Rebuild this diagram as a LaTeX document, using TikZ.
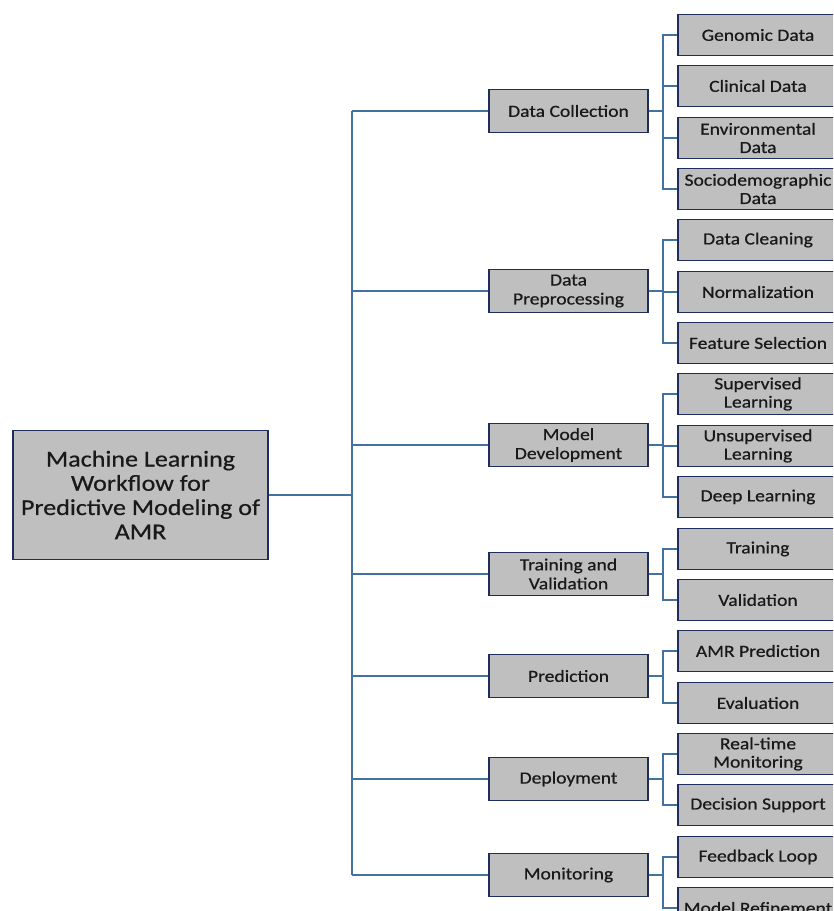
\documentclass[tikz,border=0pt]{standalone}
\usepackage{fontspec}
\setmainfont{Carlito}[FakeStretch=1.15, FakeBold=0.6]
\definecolor{boxline}{RGB}{31,45,92}
\definecolor{boxfill}{RGB}{191,191,191}
\definecolor{linkblue}{RGB}{68,114,160}

\begin{document}
\begin{tikzpicture}[x=0.02cm, y=-0.02cm]
    % Box and connector styles
    \tikzset{
        base box/.style={draw=boxline, fill=boxfill, line width=1.1pt, inner sep=1pt, align=center, text=black!90},
        root box/.style={base box, minimum width=5.1cm, minimum height=2.58cm, font=\fontsize{12.9}{13.8}\selectfont},
        stage box/.style={base box, minimum width=3.18cm, minimum height=0.86cm, font=\fontsize{9.7}{10.8}\selectfont},
        leaf box/.style={base box, minimum width=3.2cm, minimum height=0.82cm, font=\fontsize{9.7}{10.4}\selectfont},
        link/.style={draw=linkblue, line width=0.85pt}
    }
    \clip (0,0) rectangle (833,911);

    % --- Root ---
    \node[root box] (root) at (140.5,495) {Machine Learning\\Workflow for\\Predictive Modeling of\\AMR};

    % --- Stages ---
    \node[stage box] (collect) at (568.5,111) {Data Collection};
    \node[stage box] (prep) at (568.5,291) {Data\\Preprocessing};
    \node[stage box] (devel) at (568.5,445) {Model\\Development};
    \node[stage box] (train) at (568.5,574) {Training and\\Validation};
    \node[stage box] (predict) at (568.5,676) {Prediction};
    \node[stage box] (deploy) at (568.5,779) {Deployment};
    \node[stage box] (monitor) at (568.5,875) {Monitoring};

    % --- Leaves ---
    \node[leaf box] (genomic) at (758,35) {Genomic Data};
    \node[leaf box] (clinical) at (758,86) {Clinical Data};
    \node[leaf box] (environ) at (758,138) {Environmental\\Data};
    \node[leaf box] (socio) at (758,189) {Sociodemographic\\Data};
    \node[leaf box] (cleaning) at (758,240) {Data Cleaning};
    \node[leaf box] (normal) at (758,292) {Normalization};
    \node[leaf box] (feature) at (758,343) {Feature Selection};
    \node[leaf box] (superv) at (758,394) {Supervised\\Learning};
    \node[leaf box] (unsuperv) at (758,446) {Unsupervised\\Learning};
    \node[leaf box] (deep) at (758,497) {Deep Learning};
    \node[leaf box] (training) at (758,549) {Training};
    \node[leaf box] (valid) at (758,600) {Validation};
    \node[leaf box] (amrpred) at (758,651) {AMR Prediction};
    \node[leaf box] (evaluate) at (758,703) {Evaluation};
    \node[leaf box] (realtime) at (758,754) {Real-time\\Monitoring};
    \node[leaf box] (decision) at (758,805) {Decision Support};
    \node[leaf box] (feedback) at (758,857) {Feedback Loop};
    \node[leaf box] (refine) at (758,908) {Model Refinement};

    % Trunk and fork columns
    \coordinate (trunk) at (352,0);
    \coordinate (fork) at (663,0);

    % Root to stages
    \draw[link] (root.east) -- (trunk |- root.east);
    \draw[link] (trunk |- collect.west) -- (trunk |- monitor.west);
    \foreach \s in {collect,prep,devel,train,predict,deploy,monitor}
        \draw[link] (trunk |- \s.west) -- (\s.west);

    % Stages to leaves
    \foreach \s/\l in {collect/genomic, collect/clinical, collect/environ, collect/socio,
                       prep/cleaning, prep/normal, prep/feature,
                       devel/superv, devel/unsuperv, devel/deep,
                       train/training, train/valid,
                       predict/amrpred, predict/evaluate,
                       deploy/realtime, deploy/decision,
                       monitor/feedback, monitor/refine}
        \draw[link] (\s.east) -| (fork |- \l.west) -- (\l.west);
\end{tikzpicture}
\end{document}
